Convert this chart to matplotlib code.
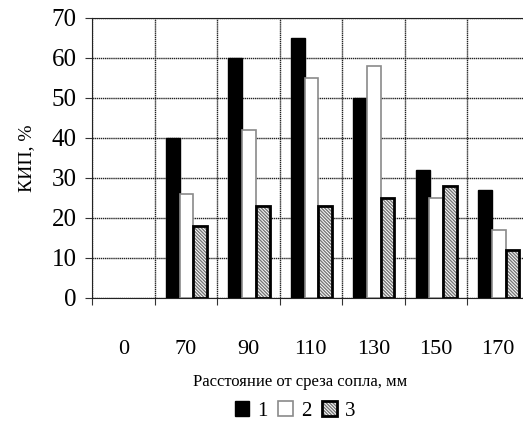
import matplotlib.pyplot as plt
from matplotlib.legend_handler import HandlerTuple
import numpy as np

plt.rcParams['font.family'] = ['Liberation Serif', 'DejaVu Serif']
plt.rcParams['hatch.linewidth'] = 1.0

distances = ['0', '70', '90', '110', '130', '150', '170']
# no measurements at 0 mm
series1 = [np.nan, 40, 60, 65, 50, 32, 27]
series2 = [np.nan, 26, 42, 55, 58, 25, 17]
series3 = [np.nan, 18, 23, 23, 25, 28, 12]
legend_labels = ['1', '2', '3']

fig = plt.figure(figsize=(5.23, 4.24), dpi=100)
ax = fig.add_axes([92 / 523, 1 - 298 / 424, 1 - 92 / 523, (298 - 18) / 424])

x = np.arange(len(distances)) + 0.5
w = 0.22
b1 = ax.bar(x - w + 0.01, series1, w, color='black', edgecolor='black', lw=1, zorder=3)
b2 = ax.bar(x + 0.01, series2, w, color='white', edgecolor='#8a8a8a', lw=1.2, zorder=3)
b3h = ax.bar(x + w + 0.01, series3, w, color='white', edgecolor='#777777', lw=0, hatch='\\' * 10, zorder=3)
b3o = ax.bar(x + w + 0.01, series3, w, fill=False, edgecolor='black', lw=2, zorder=4)

ax.set_ylim(0, 70)
ax.set_xlim(0, 6.896)
ax.set_yticks(range(0, 71, 10))
ax.set_xticks(range(0, 7))
ax.set_xticklabels([])
ax.set_xticks(x, distances, minor=True)
ax.tick_params(axis='x', which='minor', length=0, pad=30, labelsize=16)
ax.tick_params(axis='x', which='major', length=5, direction='out', color='#333333')
ax.tick_params(axis='y', length=5, labelsize=18, pad=6, color='#333333')
ax.grid(True, which='major', color='#222222', lw=1, linestyle=(0, (1, 0.5)), zorder=0)
ax.spines['right'].set_visible(False)
for s in ['top', 'left', 'bottom']:
    ax.spines[s].set_color('#222222')

ax.set_ylabel('КИП, %', fontsize=14, labelpad=12)
fig.text(300 / 523, 1 - 382 / 424, 'Расстояние от среза сопла, мм', ha='center', va='center', fontsize=12)
fig.legend([b1, b2, (b3h, b3o)], legend_labels, loc='center', bbox_to_anchor=(295 / 523, 1 - 411 / 424),
           ncol=3, frameon=False, fontsize=15, handlelength=0.7, handleheight=0.7, handletextpad=0.4,
           columnspacing=0.5, handler_map={tuple: HandlerTuple(ndivide=1, pad=0)})

fig.savefig('out.png', dpi=100)
